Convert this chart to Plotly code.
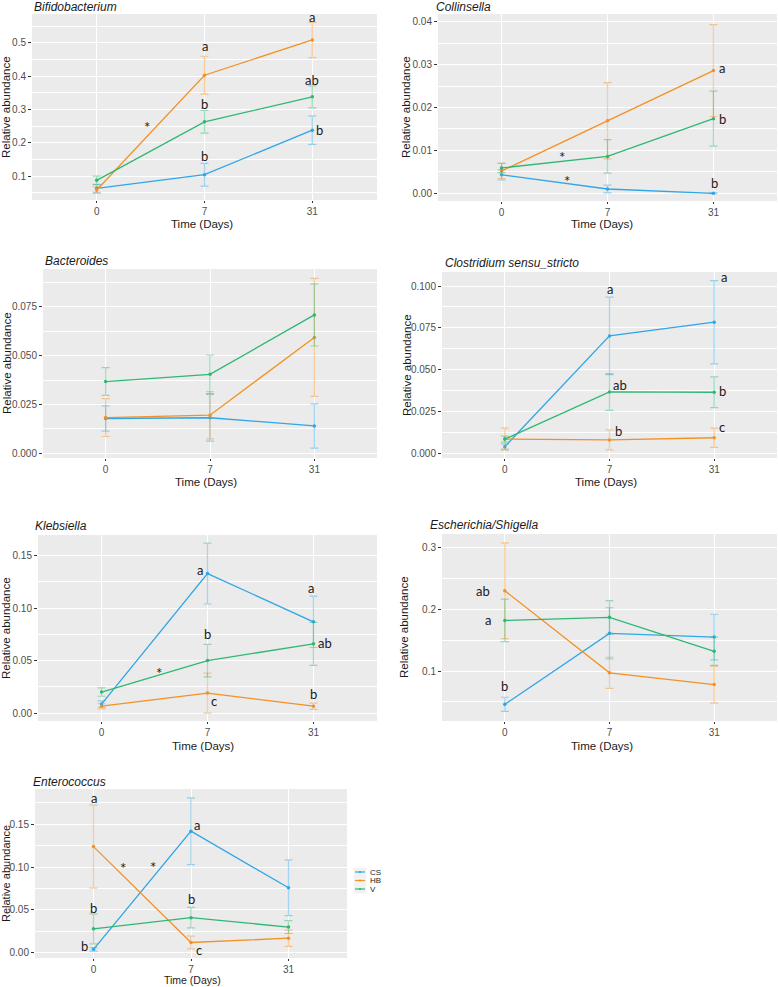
import plotly.graph_objects as go

W, H = 778, 987

DAYS = ["0", "7", "31"]
GROUPS = ["CS", "HB", "V"]
LINE_COLORS = {"CS": "#2FA6E6", "HB": "#F39125", "V": "#2EB872"}
ERR_COLORS = {"CS": "rgba(47,166,230,0.45)", "HB": "rgba(243,145,37,0.45)",
              "V": "rgba(46,184,114,0.45)"}

# mean relative abundance and standard error, per group, at day 0 / 7 / 31
bifido_mean = {"CS": [0.063, 0.104, 0.238], "HB": [0.058, 0.403, 0.509], "V": [0.087, 0.263, 0.338]}
bifido_se = {"CS": [0.012, 0.034, 0.043], "HB": [0.010, 0.057, 0.053], "V": [0.013, 0.034, 0.033]}

collin_mean = {"CS": [0.0043, 0.0010, 0.0000], "HB": [0.0052, 0.0169, 0.0286], "V": [0.0059, 0.0086, 0.0174]}
collin_se = {"CS": [0.0012, 0.0009, 0.0001], "HB": [0.0018, 0.0089, 0.0107], "V": [0.0011, 0.0039, 0.0064]}

bacter_mean = {"CS": [0.0178, 0.0182, 0.0140], "HB": [0.0183, 0.0195, 0.0593], "V": [0.0367, 0.0404, 0.0708]}
bacter_se = {"CS": [0.0065, 0.0120, 0.0113], "HB": [0.0097, 0.0121, 0.0302], "V": [0.0071, 0.0099, 0.0159]}

clostr_mean = {"CS": [0.0040, 0.0702, 0.0784], "HB": [0.0085, 0.0080, 0.0093], "V": [0.0085, 0.0367, 0.0365]}
clostr_se = {"CS": [0.0015, 0.0232, 0.0249], "HB": [0.0066, 0.0060, 0.0058], "V": [0.0018, 0.0110, 0.0092]}

klebs_mean = {"CS": [0.0085, 0.133, 0.087], "HB": [0.0065, 0.019, 0.0065], "V": [0.020, 0.050, 0.066]}
klebs_se = {"CS": [0.003, 0.029, 0.0245], "HB": [0.0025, 0.019, 0.003], "V": [0.004, 0.0155, 0.0205]}

esch_mean = {"CS": [0.046, 0.161, 0.155], "HB": [0.230, 0.097, 0.078], "V": [0.182, 0.187, 0.132]}
esch_se = {"CS": [0.0115, 0.0415, 0.037], "HB": [0.0775, 0.025, 0.030], "V": [0.0345, 0.027, 0.023]}

entero_mean = {"CS": [0.004, 0.142, 0.076], "HB": [0.124, 0.012, 0.017], "V": [0.028, 0.041, 0.030]}
entero_se = {"CS": [0.002, 0.039, 0.0325], "HB": [0.0485, 0.0075, 0.0095], "V": [0.0175, 0.012, 0.0075]}

# significance letters / stars: (x position on the day axis, y, text)
bifido_marks = [(1, 0.49, "a"), (2, 0.578, "a"), (2, 0.388, "ab"), (1, 0.316, "b"),
                (1, 0.16, "b"), (2.07, 0.237, "b"), (0.47, 0.26, "*")]
collin_marks = [(2.08, 0.0293, "a"), (2.09, 0.0173, "b"), (2.01, 0.0023, "b"),
                (0.57, 0.0093, "*"), (0.62, 0.0039, "*")]
bacter_marks = []
clostr_marks = [(1.0, 0.098, "a"), (2.09, 0.1052, "a"), (1.1, 0.0408, "ab"),
                (2.08, 0.0374, "b"), (1.09, 0.0133, "b"), (2.07, 0.0158, "c")]
klebs_marks = [(0.93, 0.1364, "a"), (1.98, 0.1195, "a"), (1.0, 0.075, "b"),
               (2.11, 0.067, "ab"), (1.06, 0.0117, "c"), (2.0, 0.018, "b"), (0.54, 0.042, "*")]
esch_marks = [(-0.21, 0.230, "ab"), (-0.16, 0.183, "a"), (0.0, 0.076, "b")]
entero_marks = [(0.0, 0.1806, "a"), (0.0, 0.0525, "b"), (-0.09, 0.0074, "b"),
                (1.065, 0.149, "a"), (1.0, 0.0628, "b"), (1.08, 0.0036, "c"),
                (0.3, 0.1033, "*"), (0.61, 0.105, "*")]

# title, mean, se, marks, y range, dtick, tickformat, plot box in px (x0, x1, y0, y1)
panels = [
    ("Bifidobacterium", bifido_mean, bifido_se, bifido_marks, [0.028, 0.587], 0.1, ".1f", (32, 377, 14, 200)),
    ("Collinsella", collin_mean, collin_se, collin_marks, [-0.0018, 0.0418], 0.01, ".2f", (438, 777, 14, 201)),
    ("Bacteroides", bacter_mean, bacter_se, bacter_marks, [-0.0024, 0.0943], 0.025, ".3f", (43, 377, 269, 458)),
    ("Clostridium sensu_stricto", clostr_mean, clostr_se, clostr_marks, [-0.0028, 0.1084], 0.025, ".3f", (442, 777, 272, 458)),
    ("Klebsiella", klebs_mean, klebs_se, klebs_marks, [-0.0076, 0.1698], 0.05, ".2f", (38, 377, 535, 721)),
    ("Escherichia/Shigella", esch_mean, esch_se, esch_marks, [0.019, 0.322], 0.1, ".1f", (442, 777, 534, 721)),
    ("Enterococcus", entero_mean, entero_se, entero_marks, [-0.0061, 0.1913], 0.05, ".2f", (35, 347, 789, 958)),
]

# title / axis-title anchors in px
title_pos = [(32, 7), (434, 7), (43, 261), (443, 263), (33, 526), (428, 525), (31, 782)]
ytitle_pos = [(6, 107), (406, 107), (7, 363), (407, 365), (6, 628), (404, 627), (6, 874)]
xtitle_pos = [(202, 224), (602, 224), (206, 482), (606, 482), (203, 746), (602, 746), (192, 980)]

fig = go.Figure()
layout = {}
annotations = []

tick_font = dict(family="Liberation Sans", size=10, color="#4D4D4D")


def paper(px, py):
    return px / W, 1 - py / H


for i, (title, mean, se, marks, yrng, dtick, fmt, box) in enumerate(panels, start=1):
    x0, x1, y0, y1 = box
    xa, ya = f"x{i}", f"y{i}"
    for g in GROUPS:
        fig.add_trace(go.Scatter(
            x=[0, 1, 2], y=mean[g], mode="lines+markers",
            line=dict(color=LINE_COLORS[g], width=1.3),
            marker=dict(color=LINE_COLORS[g], size=3.5),
            error_y=dict(type="data", array=se[g], color=ERR_COLORS[g],
                         thickness=1.2, width=4),
            xaxis=xa, yaxis=ya, showlegend=False, name=g,
        ))
    layout[f"xaxis{i}"] = dict(
        domain=[x0 / W, x1 / W], anchor=ya, range=[-0.6, 2.6],
        tickvals=[0, 1, 2], ticktext=DAYS, showgrid=True, gridcolor="white",
        gridwidth=1.1, zeroline=False, ticks="outside", ticklen=2,
        tickcolor="#333333", tickfont=tick_font, showline=False,
    )
    layout[f"yaxis{i}"] = dict(
        domain=[1 - y1 / H, 1 - y0 / H], anchor=xa, range=yrng,
        tick0=0, dtick=dtick, tickformat=fmt, showgrid=True, gridcolor="white",
        gridwidth=1.1, zeroline=False, ticks="outside", ticklen=3,
        tickcolor="#333333", tickfont=tick_font, showline=False,
        minor=dict(tick0=0, dtick=dtick / 2, showgrid=True, gridcolor="white",
                   gridwidth=0.5, ticks=""),
    )
    for mx, my, txt in marks:
        star = txt == "*"
        annotations.append(dict(
            x=mx, y=my, xref=xa, yref=ya, text=txt, showarrow=False,
            xanchor="center", yanchor="middle",
            font=dict(family="Lato", size=15 if star else 13, color="#1A1A1A"),
            yshift=-4 if star else 0,
        ))
    tx, ty = paper(*title_pos[i - 1])
    annotations.append(dict(
        x=tx, y=ty, xref="paper", yref="paper", xanchor="left",
        yanchor="middle", text=f"<i>{title}</i>", showarrow=False,
        font=dict(family="Liberation Sans", size=12, color="#1A1A1A"),
    ))
    yx, yy = paper(*ytitle_pos[i - 1])
    annotations.append(dict(
        x=yx, y=yy, xref="paper", yref="paper", textangle=-90,
        xanchor="center", yanchor="middle",
        text="Relative abundance", showarrow=False,
        font=dict(family="Liberation Sans", size=11.5 if i < 7 else 11, color="#1A1A1A"),
    ))
    xx, xy = paper(*xtitle_pos[i - 1])
    annotations.append(dict(
        x=xx, y=xy, xref="paper", yref="paper", xanchor="center", yanchor="middle",
        text="Time (Days)", showarrow=False,
        font=dict(family="Liberation Sans", size=11.5 if i < 7 else 10.5, color="#1A1A1A"),
    ))

# legend drawn by hand to get ggplot's compact key spacing
shapes = []
legend_y = [872, 880.5, 889]
shapes.append(dict(type="rect", xref="paper", yref="paper", x0=354 / W, x1=366 / W,
                   y0=1 - 893.5 / H, y1=1 - 867.5 / H, fillcolor="#F2F2F2", line=dict(width=0)))
for g, ly in zip(GROUPS, legend_y):
    shapes.append(dict(type="line", xref="paper", yref="paper", x0=355 / W, x1=365 / W,
                       y0=1 - ly / H, y1=1 - ly / H, line=dict(color=LINE_COLORS[g], width=1.2)))
    shapes.append(dict(type="circle", xref="paper", yref="paper", x0=359 / W, x1=361 / W,
                       y0=1 - (ly + 1) / H, y1=1 - (ly - 1) / H,
                       fillcolor=LINE_COLORS[g], line=dict(width=0)))
    lx, lyp = paper(368, ly)
    annotations.append(dict(x=lx, y=lyp, xref="paper", yref="paper",
                            xanchor="left", yanchor="middle", text=g, showarrow=False,
                            font=dict(family="Liberation Sans", size=8, color="#1A1A1A")))

fig.update_layout(
    width=W, height=H, margin=dict(l=0, r=0, t=0, b=0),
    paper_bgcolor="white", plot_bgcolor="#EBEBEB",
    annotations=annotations, shapes=shapes, showlegend=False,
    **layout,
)

# drop the browser's default 8px body margin so the figure fills the window
fig.write_html("out.html", config={"displayModeBar": False},
               post_script="document.body.style.margin='0';")
